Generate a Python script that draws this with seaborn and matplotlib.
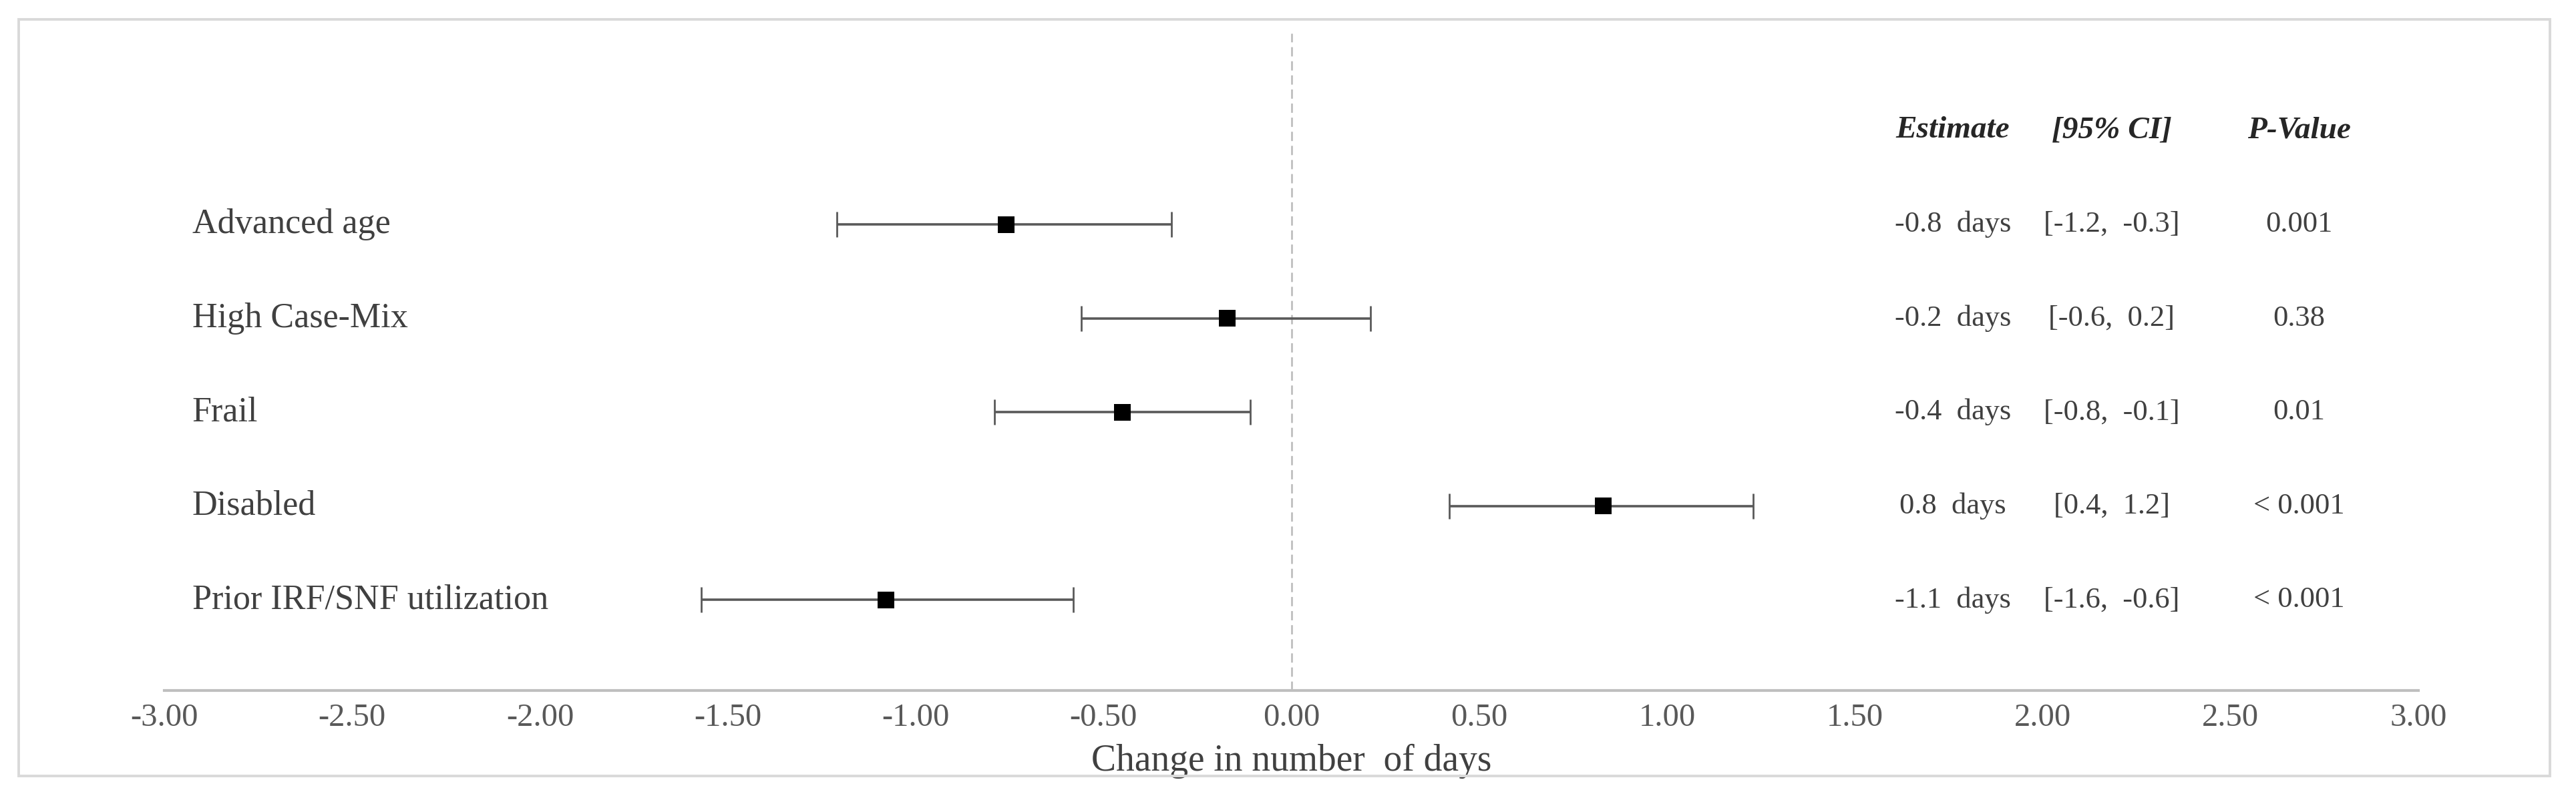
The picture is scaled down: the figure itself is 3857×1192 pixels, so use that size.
import seaborn as sns
import matplotlib.pyplot as plt
import matplotlib.transforms as mtransforms
import pandas as pd
from matplotlib.patches import Rectangle

# --- Forest plot data ---
factors = ["Advanced age", "High Case-Mix", "Frail", "Disabled", "Prior IRF/SNF utilization"]
estimates = [-0.76, -0.17, -0.45, 0.83, -1.08]
ci_low = [-1.21, -0.56, -0.79, 0.42, -1.57]
ci_high = [-0.32, 0.21, -0.11, 1.23, -0.58]
est_text = ["-0.8  days", "-0.2  days", "-0.4  days", "0.8  days", "-1.1  days"]
ci_text = ["[-1.2,  -0.3]", "[-0.6,  0.2]", "[-0.8,  -0.1]", "[0.4,  1.2]", "[-1.6,  -0.6]"]
p_text = ["0.001", "0.38", "0.01", "< 0.001", "< 0.001"]
headers = ["Estimate", "[95% CI]", "P-Value"]
x_ticks = [-3.0, -2.5, -2.0, -1.5, -1.0, -0.5, 0.0, 0.5, 1.0, 1.5, 2.0, 2.5, 3.0]

df = pd.DataFrame({
    "factor": factors,
    "row": range(len(factors)),
    "estimate": estimates,
    "low": ci_low,
    "high": ci_high,
})

# --- Visualization ---
sns.set_style("white")
plt.rcParams["font.family"] = ["Liberation Serif", "DejaVu Serif"]

fig = plt.figure(figsize=(38.57, 11.92), dpi=100)
ax = fig.add_axes([0.0638, 0.1326, 0.8750, 0.8255])

# outer frame
fig.patches.append(Rectangle((28 / 3857, 1 - 1162 / 1192), (3818 - 28) / 3857, (1162 - 29) / 1192,
                             transform=fig.transFigure, fill=False, edgecolor="#d9d9d9", linewidth=2.8))

# zero reference line
ax.axvline(0, color="#bfbfbf", linewidth=2.0, linestyle=(0, (5, 2.6)), zorder=1)

# confidence intervals
ax.errorbar(df["estimate"], df["row"],
            xerr=[df["estimate"] - df["low"], df["high"] - df["estimate"]],
            fmt="none", ecolor="#595959", elinewidth=2.6, capsize=14, capthick=2.0, zorder=2)
sns.scatterplot(data=df, x="estimate", y="row", marker="s", s=18 ** 2, color="black",
                edgecolor="none", ax=ax, zorder=3, legend=False)

ax.set_xlim(-3, 3)
ax.set_ylim(4.965, -2.035)
ax.set_xticks(x_ticks)
ax.set_xticklabels([f"{t:.2f}" for t in x_ticks])
ax.set_yticks([])
ax.set_ylabel("")
ax.set_xlabel("Change in number  of days", fontsize=40, color="#404040", labelpad=12)

for side in ["top", "right", "left"]:
    ax.spines[side].set_visible(False)
ax.spines["bottom"].set_color("#bfbfbf")
ax.spines["bottom"].set_linewidth(3.0)
ax.tick_params(axis="x", direction="inout", length=20, width=1.6, color="#bfbfbf",
               labelsize=35, labelcolor="#595959", pad=4)

# row labels and table columns
trans = mtransforms.blended_transform_factory(ax.transAxes, ax.transData)
col_x = [0.7935, 0.864, 0.947]
for i, name in enumerate(factors):
    ax.text(0.0124, i, name, transform=trans, ha="left", va="center", fontsize=37.5, color="#404040")
    ax.text(col_x[0], i, est_text[i], transform=trans, ha="center", va="center", fontsize=32, color="#404040")
    ax.text(col_x[1], i, ci_text[i], transform=trans, ha="center", va="center", fontsize=32, color="#404040")
    ax.text(col_x[2], i, p_text[i], transform=trans, ha="center", va="center", fontsize=32, color="#404040")
for x, h in zip(col_x, headers):
    ax.text(x, -1, h, transform=trans, ha="center", va="center", fontsize=34,
            fontweight="bold", fontstyle="italic", color="#262626")

plt.savefig("out.png", dpi=100)
